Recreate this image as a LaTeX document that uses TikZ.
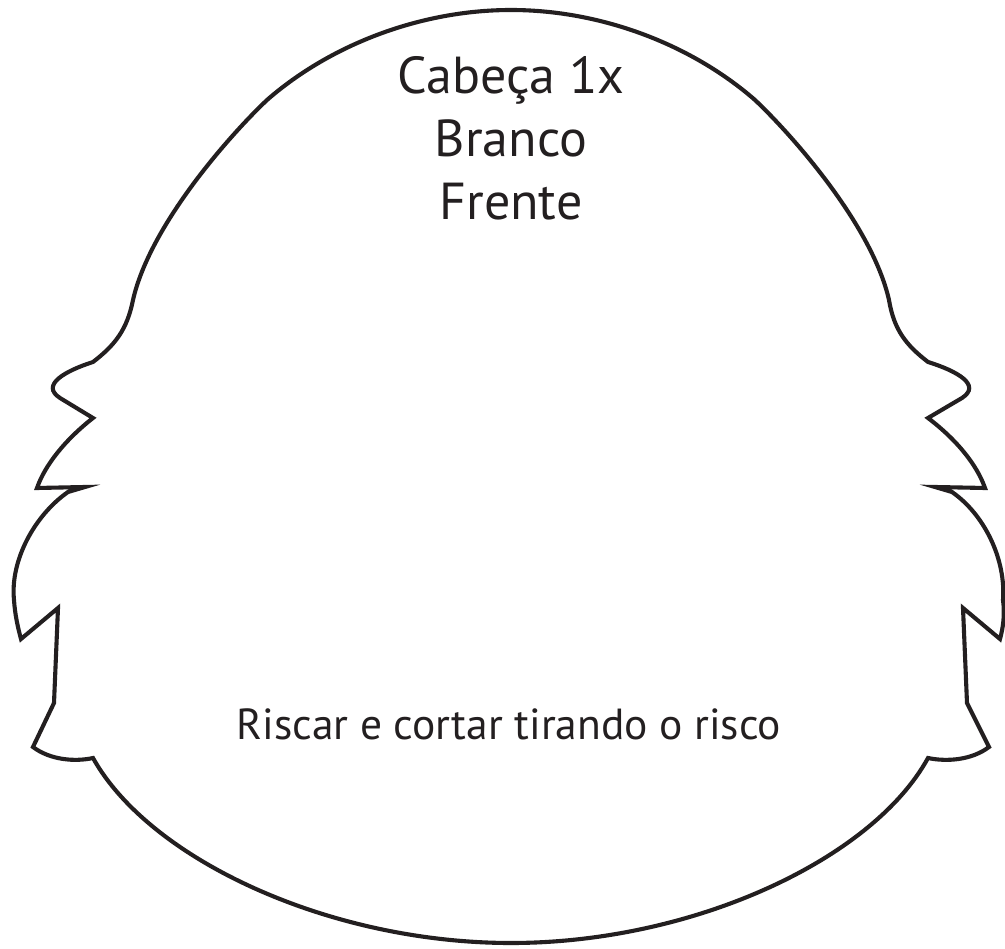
\documentclass[tikz,border=0pt]{standalone}
\usepackage{fontspec}
\setmainfont{PT Sans}
\definecolor{ink}{HTML}{231F20}
\begin{document}
\begin{tikzpicture}[x=1pt,y=-1pt,
  outline/.style={draw=ink, line width=4.1pt, line join=miter},
  lbl/.style={inner sep=0pt, anchor=base, text=ink},
  big/.style={lbl, font=\fontsize{52}{60}\selectfont},
  small/.style={lbl, font=\fontsize{43.5}{50}\selectfont}]
\useasboundingbox (0,0) rectangle (1005,949);
\draw[outline] (511,10)
  .. controls (420,10) and (330,45) .. (267,100)
  .. controls (230,135) and (150,225) .. (133,300)
  .. controls (127,330) and (115,345) .. (93,362)
  .. controls (65,371) and (40,385) .. (60,398)
  -- (93,418)
  .. controls (65,440) and (45,465) .. (37,488)
  -- (85,487)
  -- (68,492)
  .. controls (35,515) and (10,560) .. (14,600)
  .. controls (15,615) and (18,628) .. (21,639)
  -- (58,608)
  -- (54,703)
  -- (33,747)
  .. controls (50,760) and (75,762) .. (93,758)
  .. controls (150,860) and (330,943) .. (511,943)
  .. controls (692,943) and (872,860) .. (928,758)
  .. controls (947,762) and (972,760) .. (989,747)
  -- (967,703)
  -- (963,608)
  -- (1000,639)
  .. controls (1003,628) and (1005,615) .. (1003,600)
  .. controls (1006,560) and (985,515) .. (952,492)
  -- (935,487)
  -- (985,488)
  .. controls (977,465) and (957,440) .. (928,418)
  -- (962,398)
  .. controls (982,385) and (957,371) .. (928,362)
  .. controls (906,345) and (894,330) .. (889,300)
  .. controls (872,225) and (792,135) .. (755,100)
  .. controls (692,45) and (602,10) .. (511,10)
  -- cycle;
\node[big] (l1) at (511,94) {Cabeça 1x};
\node[big] (l2) at (511,157) {Branco};
\node[big] (l3) at (511,220) {Frente};
\node[small] (l4) at (509,739) {Riscar e cortar tirando o risco};
\end{tikzpicture}
\end{document}
